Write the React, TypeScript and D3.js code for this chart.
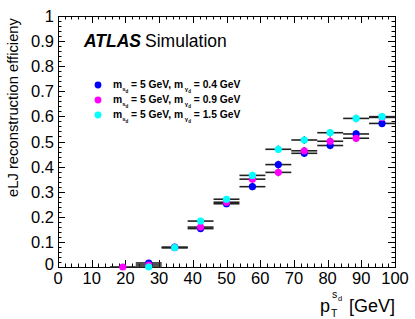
import React from 'react';
import * as d3 from 'd3';

// bin centres (GeV), bins of width 100/13
const binCenters = [19.23, 26.92, 34.62, 42.31, 50, 57.69, 65.38, 73.08, 80.77, 88.46, 96.15];
const binHalfWidth = 100 / 26;

// efficiencies per sample (null = no entry)
const effBlue = [null, 0.016, 0.079, 0.153, 0.252, 0.32, 0.408, 0.453, 0.484, 0.53, 0.572];
const effPink = [0.0, 0.008, 0.077, 0.159, 0.258, 0.35, 0.377, 0.463, 0.501, 0.513, 0.596];
const effCyan = [null, 0.0, 0.077, 0.183, 0.27, 0.365, 0.469, 0.506, 0.535, 0.592, 0.599];
const errBlue = [0, 0.006, 0.01, 0.012, 0.013, 0.014, 0.015, 0.015, 0.015, 0.015, 0.015];
const errPink = [0.004, 0.006, 0.01, 0.012, 0.013, 0.014, 0.015, 0.015, 0.015, 0.015, 0.015];
const errCyan = [0, 0.006, 0.01, 0.012, 0.013, 0.014, 0.015, 0.015, 0.015, 0.015, 0.015];

const seriesColors = ['#0000ff', '#ff00ff', '#00ffff'];
const legendPhotonMass = ['0.4', '0.9', '1.5'];

const xTicks = d3.range(0, 101, 10);
const yTicks = d3.range(0, 1.01, 0.1);

const W = 415, H = 319;
const left = 58, right = 395, top = 16, bottom = 267;
const font = '"Liberation Sans", Arial, sans-serif';

export default function App() {
  const x = d3.scaleLinear().domain([0, 100]).range([left, right]);
  const y = d3.scaleLinear().domain([0, 1]).range([bottom, top]);

  const xMinor = d3.range(0, 100.01, 2);
  const yMinor = d3.range(0, 1.001, 0.02);

  const series = [
    { eff: effBlue, err: errBlue, color: seriesColors[0] },
    { eff: effPink, err: errPink, color: seriesColors[1] },
    { eff: effCyan, err: errCyan, color: seriesColors[2] },
  ];

  return (
    <svg width={W} height={H} style={{ position: 'absolute', left: 0, top: 0, background: '#fff' }} fontFamily={font}>
      <rect x={0} y={0} width={W} height={H} fill="#fff" />
      {/* ticks */}
      <g stroke="#000" strokeWidth={1}>
        {xMinor.map((v, i) => {
          const major = Math.abs(v % 10) < 1e-6;
          const len = major ? 7 : 3.5;
          const px = Math.round(x(v)) + 0.5;
          return (
            <g key={'xt' + i}>
              <line x1={px} x2={px} y1={bottom} y2={bottom - len} />
              <line x1={px} x2={px} y1={top} y2={top + len} />
            </g>
          );
        })}
        {yMinor.map((v, i) => {
          const major = Math.abs((v * 10) - Math.round(v * 10)) < 1e-6;
          const len = major ? 7 : 3.5;
          const py = Math.round(y(v)) + 0.5;
          return (
            <g key={'yt' + i}>
              <line x1={left} x2={left + len} y1={py} y2={py} />
              <line x1={right} x2={right - len} y1={py} y2={py} />
            </g>
          );
        })}
      </g>
      <rect x={left + 0.5} y={top + 0.5} width={right - left} height={bottom - top} fill="none" stroke="#000" />

      {/* tick labels */}
      <g fontSize={16.5} fill="#000">
        {xTicks.map((v) => (
          <text key={'xl' + v} x={x(v)} y={284} textAnchor="middle">{v}</text>
        ))}
        {yTicks.map((v, i) => (
          <text key={'yl' + i} x={left - 4} y={y(v) + 6 - (i === 0 ? 3 : 0)} textAnchor="end">{d3.format('~g')(+v.toFixed(1))}</text>
        ))}
      </g>

      {/* axis titles */}
      <text transform={`translate(18,${top + 2}) rotate(-90)`} textAnchor="end" fontSize={14.8}>eLJ reconstruction efficieny</text>
      <g fontSize={18}>
        <text x={320} y={312}>p</text>
        <text x={331} y={317} fontSize={10.5}>T</text>
        <text x={332} y={298} fontSize={10.5}>s</text>
        <text x={338} y={301} fontSize={7.5}>d</text>
        <text x={right} y={312} textAnchor="end">[GeV]</text>
      </g>

      {/* data */}
      {series.map((s, si) => (
        <g key={'s' + si}>
          {binCenters.map((c, i) => {
            const v = s.eff[i];
            if (v === null) return null;
            return (
              <g key={i}>
                <line x1={x(c - binHalfWidth)} x2={x(c + binHalfWidth)} y1={y(v)} y2={y(v)} stroke="#222" strokeWidth={1.6} />
                <line x1={x(c)} x2={x(c)} y1={y(v - s.err[i])} y2={y(v + s.err[i])} stroke="#000" strokeWidth={1.2} />
              </g>
            );
          })}
        </g>
      ))}
      {series.map((s, si) => (
        <g key={'m' + si}>
          {binCenters.map((c, i) => {
            const v = s.eff[i];
            if (v === null) return null;
            return <circle key={i} cx={x(c)} cy={y(v)} r={3.6} fill={s.color} />;
          })}
        </g>
      ))}

      {/* ATLAS label */}
      <text x={84} y={47} fontSize={17.5}>
        <tspan fontWeight="bold" fontStyle="italic">ATLAS</tspan>
        <tspan dx={4}>Simulation</tspan>
      </text>

      {/* legend */}
      {legendPhotonMass.map((m, i) => {
        const ly = 85 + i * 15;
        return (
          <g key={'lg' + i}>
            <circle cx={98} cy={ly} r={3.4} fill={seriesColors[i]} />
            <text x={113} y={ly + 3} fontSize={10.3} fontWeight="bold">
              m
              <tspan dy={3} fontSize={6}>s</tspan>
              <tspan dy={1.5} fontSize={4.5}>d</tspan>
              <tspan dy={-4.5}> = 5 GeV, m</tspan>
              <tspan dy={3} fontSize={6}> γ</tspan>
              <tspan dy={2} fontSize={4.5}>d</tspan>
              <tspan dy={-5}> = {m} GeV</tspan>
            </text>
          </g>
        );
      })}
    </svg>
  );
}
